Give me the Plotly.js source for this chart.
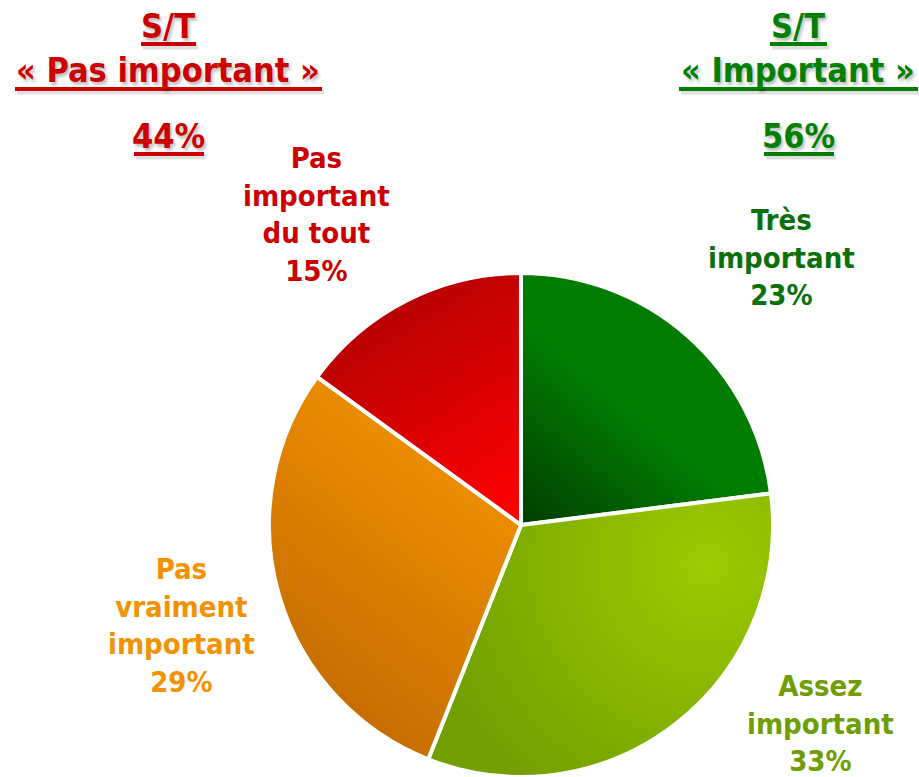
<!DOCTYPE html>
<html>
<head>
<meta charset="utf-8">
<script src="https://cdn.plot.ly/plotly-3.0.1.min.js"></script>
<style>html,body{margin:0;padding:0;background:#fff;}#chart{width:919px;height:777px;}</style>
</head>
<body>
<div id="chart"></div>
<script>
// ---- data ----
const categories = ["Très<br>important", "Assez<br>important", "Pas<br>vraiment<br>important", "Pas<br>important<br>du tout"];
const values = [23, 33, 29, 15];
const sliceColors = ["#007A00", "#89B500", "#E88A00", "#D80000"];
const labelColors = ["#0A700A", "#6E9E00", "#F39200", "#CC0000"];
const groupTitles = ["S/T", "S/T"];
const groupNames = ["« Pas important »", "« Important »"];
const groupValues = [44, 56];
const groupColors = ["#CC0000", "#008000"];

const FONT = "'DejaVu Sans Condensed', 'DejaVu Sans', sans-serif";

// label anchor positions (paper coords)
const labelPos = [[781/919, 1-257/777], [820/919, 1-723/777], [181/919, 1-625/777], [316/919, 1-214/777]];

const annotations = [];
categories.forEach((c, i) => {
  annotations.push({
    xref: "paper", yref: "paper", x: labelPos[i][0], y: labelPos[i][1],
    xanchor: "center", yanchor: "middle", showarrow: false, align: "center",
    text: "<b>" + c + "<br>" + values[i] + "%</b>",
    font: {family: FONT, size: 29, color: labelColors[i]}
  });
});

const groupX = [168/919, 798/919];
const lineY = [26, 70, 136];
const shapes = [];
const underl = [
  [[141, 196, 44], [15, 322, 89], [134, 204, 154]],
  [[770, 827, 44], [679, 918, 89], [764, 834, 154]]
];
groupTitles.forEach((t, g) => {
  const texts = [t, groupNames[g], groupValues[g] + "%"];
  texts.forEach((tx, k) => {
    annotations.push({
      xref: "paper", yref: "paper", x: groupX[g], y: 1 - lineY[k]/777,
      xanchor: "center", yanchor: "middle", showarrow: false,
      text: "<b>" + tx + "</b>",
      font: {family: FONT, size: 34, color: groupColors[g], shadow: "2px 3px 3px rgba(0,0,0,0.25)"}
    });
    const u = underl[g][k];
    shapes.push({type: "line", xref: "paper", yref: "paper",
      x0: (u[0]+2)/919, x1: (u[1]+2)/919, y0: 1-(u[2]+3)/777, y1: 1-(u[2]+3)/777,
      line: {color: "rgba(0,0,0,0.12)", width: 5}});
    shapes.push({type: "line", xref: "paper", yref: "paper",
      x0: u[0]/919, x1: u[1]/919, y0: 1-u[2]/777, y1: 1-u[2]/777,
      line: {color: groupColors[g], width: 4}});
  });
});

const R = 252, CX = 521, CY = 525;
const trace = {
  type: "pie",
  labels: categories,
  values: values,
  sort: false,
  direction: "clockwise",
  rotation: 0,
  textinfo: "none",
  hoverinfo: "label+percent",
  marker: {colors: sliceColors, line: {color: "#ffffff", width: 4}},
  domain: {x: [(CX-R)/919, (CX+R)/919], y: [(777-CY-R)/777, (777-CY+R)/777]},
  showlegend: false
};

const layout = {
  width: 919, height: 777,
  margin: {l: 0, r: 0, t: 0, b: 0},
  paper_bgcolor: "#ffffff",
  showlegend: false,
  annotations: annotations,
  shapes: shapes
};

Plotly.newPlot("chart", [trace], layout, {displayModeBar: false, staticPlot: true}).then(() => {
  // apply shading gradients to the slices drawn by Plotly (path coords are absolute)
  const svg = document.querySelector("#chart .main-svg");
  const NS = "http://www.w3.org/2000/svg";
  let defs = svg.querySelector("defs");
  if (!defs) { defs = document.createElementNS(NS, "defs"); svg.insertBefore(defs, svg.firstChild); }
  const grads = [
    {type: "linear", a: [10, 10], b: [110, -110], stops: ["#003C00", "#007C00"]},
    {type: "radial", c: [185, 40], r: 280, stops: ["#9CCB00", "#72A000"]},
    {type: "linear", a: [-30, -80], b: [-230, 180], stops: ["#F29200", "#C26A00"]},
    {type: "linear", a: [-5, -10], b: [-140, -230], stops: ["#FF0000", "#B40000"]}
  ];
  grads.forEach((g, i) => {
    const el = document.createElementNS(NS, g.type === "linear" ? "linearGradient" : "radialGradient");
    el.setAttribute("id", "sg" + i);
    el.setAttribute("gradientUnits", "userSpaceOnUse");
    if (g.type === "linear") {
      el.setAttribute("x1", CX + g.a[0]); el.setAttribute("y1", CY + g.a[1]);
      el.setAttribute("x2", CX + g.b[0]); el.setAttribute("y2", CY + g.b[1]);
    } else {
      el.setAttribute("cx", CX + g.c[0]); el.setAttribute("cy", CY + g.c[1]); el.setAttribute("r", g.r);
    }
    g.stops.forEach((s, k) => {
      const st = document.createElementNS(NS, "stop");
      st.setAttribute("offset", k === 0 ? "0" : "1");
      st.setAttribute("stop-color", s);
      el.appendChild(st);
    });
    defs.appendChild(el);
  });
  const paths = document.querySelectorAll("#chart .slice path.surface");
  paths.forEach((p, i) => {
    const d = p.__data__;
    const idx = (d && d.i !== undefined) ? d.i : i;
    p.style.fill = "url(#sg" + idx + ")";
  });
});
</script>
</body>
</html>
